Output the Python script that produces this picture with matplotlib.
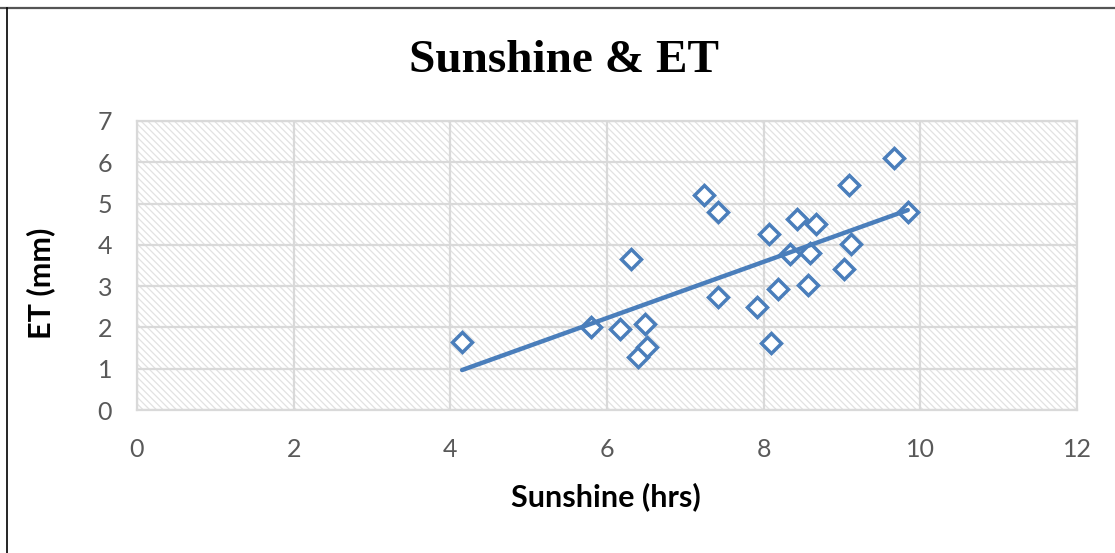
import matplotlib.pyplot as plt
from matplotlib.patches import Rectangle
from matplotlib.lines import Line2D
import numpy as np

# daily sunshine hours and evapotranspiration
sunshine = [4.15, 5.80, 6.17, 6.31, 6.48, 6.39, 6.51, 7.24, 7.42, 7.42, 7.92, 8.07,
            8.09, 8.18, 8.34, 8.43, 8.59, 8.57, 8.67, 9.03, 9.09, 9.12, 9.66, 9.84]
et = [1.65, 2.02, 1.96, 3.66, 2.08, 1.29, 1.52, 5.21, 4.80, 2.74, 2.49, 4.26,
      1.62, 2.93, 3.77, 4.62, 3.80, 3.03, 4.50, 3.41, 5.45, 4.01, 6.10, 4.80]

x_ticks = [0, 2, 4, 6, 8, 10, 12]
y_ticks = [0, 1, 2, 3, 4, 5, 6, 7]

blue = '#4a7ebb'
grid_col = '#d9d9d9'
tick_col = '#595959'

plt.rcParams['hatch.linewidth'] = 0.9

fig = plt.figure(figsize=(11.15, 5.53), dpi=100)
ax = fig.add_axes([137/1115, 1 - 410/553, 940/1115, 289/553])

# light diagonal fill behind the grid
ax.add_patch(Rectangle((0, 0), 1, 1, transform=ax.transAxes, facecolor='white',
                       edgecolor='#e2e2e2', linewidth=0, hatch='\\\\\\\\\\', zorder=0.1))

ax.set_xlim(0, 12)
ax.set_ylim(0, 7)
ax.set_xticks(x_ticks)
ax.set_yticks(y_ticks)
ax.set_axisbelow(True)
ax.grid(True, color=grid_col, linewidth=1.6)
for s in ax.spines.values():
    s.set_color(grid_col)
    s.set_linewidth(1.6)
ax.tick_params(length=0, labelsize=18, labelcolor=tick_col)
ax.tick_params(axis='x', pad=20)
ax.tick_params(axis='y', pad=18)
for lab in ax.get_xticklabels() + ax.get_yticklabels():
    lab.set_family('Lato')

ax.plot(sunshine, et, linestyle='none', marker='D', markersize=10,
        markerfacecolor='white', markeredgecolor=blue, markeredgewidth=2.5, zorder=3)

# linear trend line
k, b = np.polyfit(sunshine, et, 1)
xs = np.array([min(sunshine), max(sunshine)])
ax.plot(xs, k * xs + b, color=blue, linewidth=3.2, solid_capstyle='round', zorder=4)

fig.text(564/1115, 1 - 72/553, 'Sunshine & ET', ha='center', va='baseline',
         fontsize=34, fontweight='bold', family='Liberation Serif')
fig.text(606/1115, 1 - 506/553, 'Sunshine (hrs)', ha='center', va='baseline',
         fontsize=22, fontweight='bold', family='Lato')
fig.text(41/1115, 1 - 283/553, 'ET (mm)', ha='center', va='center', rotation=90,
         fontsize=22, fontweight='bold', family='Lato')

# chart frame on the top and left
fig.add_artist(Line2D([0, 1], [1 - 8/553, 1 - 8/553], transform=fig.transFigure,
                      color='#555555', linewidth=1.6))
fig.add_artist(Line2D([7/1115, 7/1115], [0, 1 - 8/553], transform=fig.transFigure,
                      color='black', linewidth=1.2))

fig.savefig('out.png', dpi=100, facecolor='white')
